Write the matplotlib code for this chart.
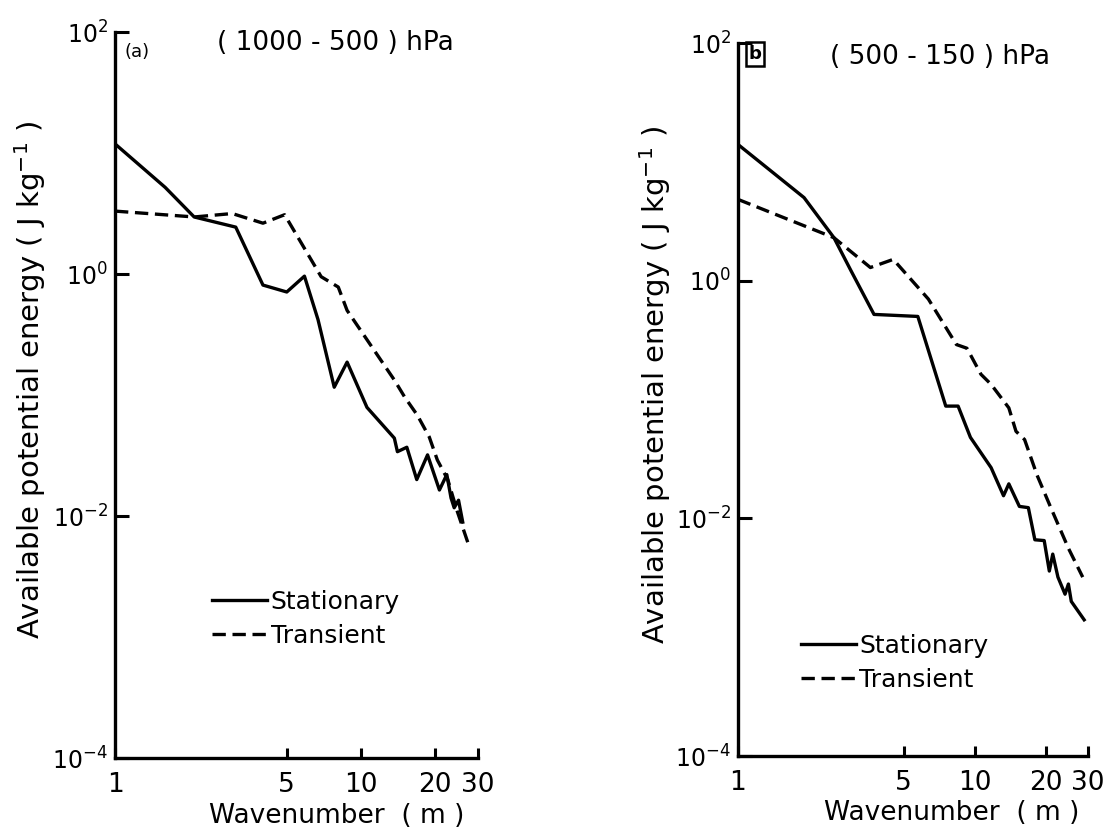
import matplotlib
matplotlib.use("Agg")
import matplotlib.pyplot as plt

# panel (a): 1000-500 hPa
waveA_stat = [1.0, 1.6, 2.1, 3.1, 4.0, 5.0, 5.9, 6.7, 7.8, 8.8, 10.6, 13.7, 14.1,
              15.4, 16.9, 18.7, 20.9, 22.4, 23.3, 24.0, 25.0, 26.0]
apeA_stat = [11.9, 5.2, 2.96, 2.44, 0.81, 0.71, 0.96, 0.42, 0.116, 0.187, 0.079, 0.044,
             0.034, 0.037, 0.020, 0.032, 0.0164, 0.022, 0.0141, 0.0117, 0.0135, 0.0089]
waveA_tran = [1.0, 2.1, 3.0, 4.0, 4.9, 6.9, 8.1, 8.8, 13.7, 15.1, 17.0, 19.0, 20.5,
              22.6, 24.6, 27.7]
apeA_tran = [3.31, 2.96, 3.16, 2.63, 3.09, 0.95, 0.78, 0.50, 0.133, 0.096, 0.068,
             0.045, 0.029, 0.020, 0.0112, 0.0055]

# panel (b): 500-150 hPa
waveB_stat = [1.0, 1.9, 2.54, 3.0, 3.75, 5.74, 7.53, 8.49, 9.57, 11.7, 13.2, 13.9,
              15.4, 16.8, 17.9, 19.6, 20.6, 21.3, 22.4, 24.0, 24.8, 25.5, 28.9]
apeB_stat = [14.0, 5.0, 2.30, 1.21, 0.52, 0.50, 0.088, 0.088, 0.048, 0.0267, 0.0155,
             0.0195, 0.0126, 0.0123, 0.0066, 0.0065, 0.0036, 0.0050, 0.0032, 0.0023,
             0.0028, 0.0020, 0.0014]
waveB_tran = [1.0, 2.54, 3.62, 4.52, 6.36, 8.35, 9.25, 10.6, 11.7, 13.9, 14.9, 16.2,
              18.3, 20.9, 24.8, 28.5]
apeB_tran = [4.83, 2.30, 1.29, 1.51, 0.70, 0.29, 0.27, 0.163, 0.134, 0.085, 0.054,
             0.046, 0.023, 0.0123, 0.0056, 0.0032]

xTicks = [1, 5, 10, 20, 30]
xTickLabels = ["1", "5", "10", "20", "30"]
yTicks = [1e-4, 1e-2, 1e0, 1e2]
yTickLabels = ["$10^{-4}$", "$10^{-2}$", "$10^{0}$", "$10^{2}$"]

plt.rcParams['font.family'] = ['DejaVu Sans']
plt.rcParams['mathtext.default'] = 'regular'

fig = plt.figure(figsize=(11.15, 8.36), dpi=100)
W, H = 1115, 836


def drawPanel(rect, wStat, eStat, wTran, eTran, legendPos):
    ax = fig.add_axes(rect)
    ax.plot(wStat, eStat, color='black', lw=2.4, label='Stationary')
    ax.plot(wTran, eTran, color='black', lw=2.4, dashes=(4, 2), label='Transient')
    ax.set_xscale('log')
    ax.set_yscale('log')
    ax.set_xlim(1, 30)
    ax.set_ylim(1e-4, 1e2)
    for s in ['top', 'right']:
        ax.spines[s].set_visible(False)
    for s in ['left', 'bottom']:
        ax.spines[s].set_linewidth(2.4)
    ax.set_xticks(xTicks)
    ax.set_xticklabels(xTickLabels, fontsize=19)
    ax.set_yticks(yTicks)
    ax.set_yticklabels(yTickLabels, fontsize=17)
    ax.minorticks_off()
    ax.tick_params(axis='x', direction='in', length=7, width=2.2, pad=10)
    ax.tick_params(axis='y', direction='in', length=10, width=2.2, pad=5)
    ax.set_ylabel("Available potential energy ( J kg$^{-1}$ )", fontsize=21)
    ax.yaxis.set_label_coords(-0.185, 0.52)
    ax.set_xlabel("Wavenumber  ( m )", fontsize=19)
    ax.xaxis.set_label_coords(0.61, -0.062)
    ax.legend(loc='upper left', bbox_to_anchor=legendPos, frameon=False,
              fontsize=18, handlelength=2.2, handletextpad=0.15,
              labelspacing=0.4, borderaxespad=0)
    return ax


axA = drawPanel([115 / W, 78 / H, 363 / W, 726 / H], waveA_stat, apeA_stat,
                waveA_tran, apeA_tran, (0.24, 0.245))
axB = drawPanel([738 / W, 80 / H, 350 / W, 713 / H], waveB_stat, apeB_stat,
                waveB_tran, apeB_tran, (0.15, 0.185))

fig.text(335 / W, 1 - 43 / H, "( 1000 - 500 ) hPa", fontsize=19, ha='center', va='center')
fig.text(137 / W, 1 - 52 / H, "(a)", fontsize=13, ha='center', va='center')
fig.text(940 / W, 1 - 57 / H, "( 500 - 150 ) hPa", fontsize=19, ha='center', va='center')
fig.text(755 / W, 1 - 54 / H, "b", fontsize=13, ha='center', va='center', fontweight='bold',
         bbox=dict(boxstyle='square,pad=0.15', fc='none', ec='black', lw=1.8))

fig.savefig("out.png", dpi=100)
